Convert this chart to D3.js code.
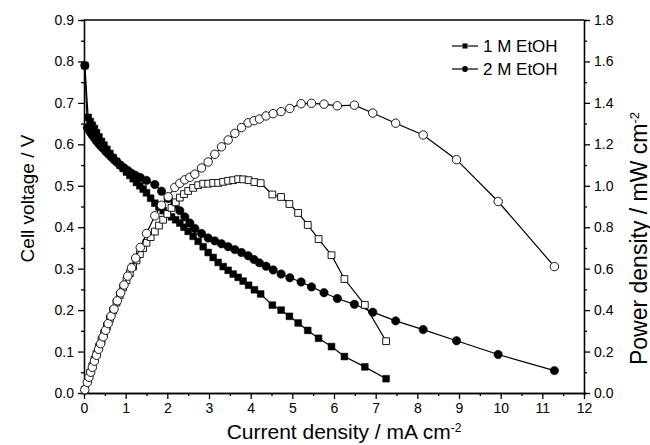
<!DOCTYPE html>
<html>
<head>
<meta charset="utf-8">
<script src="https://cdn.jsdelivr.net/npm/d3@7"></script>
<style>
  body { margin: 0; background: #fff; }
  text { font-family: "Liberation Sans", Arial, sans-serif; fill: #000; }
</style>
</head>
<body>
<script>
// 1 M EtOH : current density (mA cm-2), cell voltage (V), power density (mW cm-2)
var j1 = [0.02,0.1,0.15,0.2,0.25,0.3,0.36,0.42,0.48,0.55,0.62,0.7,0.78,0.86,0.94,1.02,1.1,1.18,1.26,1.34,1.42,1.5,1.6,1.7,1.8,1.9,2.0,2.1,2.2,2.3,2.4,2.5,2.62,2.74,2.86,2.98,3.1,3.22,3.34,3.46,3.58,3.7,3.82,3.95,4.09,4.24,4.52,4.73,4.93,5.14,5.37,5.63,5.94,6.25,6.74,7.25];
var v1 = [0.79,0.665,0.655,0.646,0.638,0.628,0.618,0.607,0.598,0.588,0.578,0.568,0.559,0.55,0.542,0.533,0.525,0.517,0.508,0.5,0.492,0.483,0.47,0.458,0.449,0.44,0.432,0.425,0.418,0.41,0.4,0.39,0.378,0.366,0.353,0.339,0.327,0.315,0.305,0.296,0.287,0.279,0.27,0.26,0.249,0.239,0.212,0.2,0.185,0.169,0.151,0.132,0.112,0.088,0.063,0.0345];
var p1 = [0.016,0.067,0.098,0.129,0.16,0.188,0.222,0.255,0.287,0.323,0.358,0.398,0.436,0.473,0.509,0.544,0.578,0.61,0.64,0.67,0.699,0.725,0.752,0.779,0.808,0.836,0.864,0.893,0.92,0.943,0.96,0.975,0.99,1.003,1.01,1.01,1.014,1.014,1.019,1.024,1.027,1.032,1.031,1.027,1.018,1.013,0.958,0.946,0.912,0.869,0.811,0.743,0.665,0.55,0.425,0.25];

// 2 M EtOH
var j2 = [0.02,0.08,0.12,0.16,0.2,0.25,0.3,0.35,0.4,0.46,0.52,0.58,0.65,0.72,0.8,0.88,0.96,1.05,1.14,1.24,1.35,1.5,1.7,1.86,2.02,2.18,2.3,2.42,2.54,2.66,2.82,2.98,3.14,3.3,3.46,3.62,3.78,3.94,4.08,4.21,4.37,4.54,4.73,4.94,5.21,5.46,5.76,6.08,6.49,6.93,7.48,8.14,8.94,9.94,11.29];
var v2 = [0.79,0.64,0.635,0.628,0.622,0.615,0.608,0.602,0.596,0.59,0.583,0.577,0.57,0.563,0.556,0.549,0.543,0.537,0.53,0.525,0.52,0.513,0.503,0.487,0.469,0.455,0.44,0.425,0.41,0.397,0.385,0.374,0.367,0.36,0.353,0.346,0.339,0.331,0.322,0.314,0.306,0.297,0.287,0.278,0.268,0.256,0.242,0.228,0.214,0.195,0.174,0.153,0.126,0.093,0.054];
var p2 = [0.016,0.051,0.076,0.1,0.124,0.154,0.182,0.211,0.238,0.271,0.303,0.335,0.371,0.405,0.445,0.483,0.521,0.564,0.604,0.651,0.702,0.77,0.855,0.906,0.947,0.992,1.012,1.029,1.041,1.056,1.086,1.115,1.152,1.188,1.221,1.253,1.281,1.304,1.314,1.322,1.337,1.348,1.358,1.373,1.396,1.398,1.394,1.386,1.389,1.351,1.302,1.245,1.126,0.924,0.61];

// tick values and legend text
var xTicks = [0,1,2,3,4,5,6,7,8,9,10,11,12];
var vTicks = [0,0.1,0.2,0.3,0.4,0.5,0.6,0.7,0.8,0.9];
var pTicks = [0,0.2,0.4,0.6,0.8,1.0,1.2,1.4,1.6,1.8];
var legendLabels = ["1 M EtOH", "2 M EtOH"];

var margin = {top: 20, right: 66, bottom: 52, left: 84},
    width = 650 - margin.left - margin.right,
    height = 445 - margin.top - margin.bottom;

var x = d3.scaleLinear().domain([0, 12]).range([0, width]);
var yV = d3.scaleLinear().domain([0, 0.9]).range([height, 0]);
var yP = d3.scaleLinear().domain([0, 1.8]).range([height, 0]);

var svg = d3.select("body").append("svg")
    .attr("width", 650)
    .attr("height", 445)
  .append("g")
    .attr("transform", "translate(" + margin.left + "," + margin.top + ")");

// minor ticks sit halfway between the major ones
function minors(ticks) {
  var m = [];
  for (var i = 0; i < ticks.length - 1; i++) m.push((ticks[i] + ticks[i + 1]) / 2);
  return m;
}

function styleAxis(g) {
  g.selectAll("path, line").attr("stroke", "#000").attr("stroke-width", 1.3);
  g.selectAll("text").style("font-size", "14px").attr("fill", "#000");
}

// major + minor ticks, bottom
svg.append("g")
    .attr("transform", "translate(0," + height + ")")
    .call(d3.axisBottom(x).tickValues(minors(xTicks)).tickSize(3).tickFormat(""))
    .call(styleAxis);
svg.append("g")
    .attr("transform", "translate(0," + height + ")")
    .call(d3.axisBottom(x).tickValues(xTicks).tickSize(6).tickSizeOuter(0).tickPadding(4).tickFormat(d3.format("d")))
    .call(styleAxis);

// left axis (voltage)
svg.append("g")
    .call(d3.axisLeft(yV).tickValues(minors(vTicks)).tickSize(3).tickFormat(""))
    .call(styleAxis);
svg.append("g")
    .call(d3.axisLeft(yV).tickValues(vTicks).tickSize(6).tickSizeOuter(0).tickPadding(4).tickFormat(d3.format(".1f")))
    .call(styleAxis);

// right axis (power)
svg.append("g")
    .attr("transform", "translate(" + width + ",0)")
    .call(d3.axisRight(yP).tickValues(minors(pTicks)).tickSize(3).tickFormat(""))
    .call(styleAxis);
svg.append("g")
    .attr("transform", "translate(" + width + ",0)")
    .call(d3.axisRight(yP).tickValues(pTicks).tickSize(6).tickSizeOuter(0).tickPadding(4).tickFormat(d3.format(".1f")))
    .call(styleAxis);

// top frame line
svg.append("line")
    .attr("x1", 0).attr("x2", width)
    .attr("y1", 0).attr("y2", 0)
    .attr("stroke", "#000").attr("stroke-width", 1.3);

// build point arrays
function pts(js, vs) { return js.map(function(d, i) { return [d, vs[i]]; }); }
var volt1 = pts(j1, v1), volt2 = pts(j2, v2), pow1 = pts(j1, p1), pow2 = pts(j2, p2);

function drawLine(data, yScale) {
  svg.append("path")
      .datum(data)
      .attr("fill", "none")
      .attr("stroke", "#000")
      .attr("stroke-width", 1.2)
      .attr("d", d3.line().x(function(d) { return x(d[0]); }).y(function(d) { return yScale(d[1]); }));
}

function drawMarks(data, yScale, type, filled) {
  var sym = d3.symbol().type(type).size(type === d3.symbolSquare ? 46 : 56);
  svg.append("g").selectAll("path")
      .data(data)
    .enter().append("path")
      .attr("d", sym)
      .attr("transform", function(d) { return "translate(" + x(d[0]) + "," + yScale(d[1]) + ")"; })
      .attr("fill", filled ? "#000" : "#fff")
      .attr("stroke", "#000")
      .attr("stroke-width", filled ? 0.5 : 0.9);
}

drawLine(volt1, yV); drawMarks(volt1, yV, d3.symbolSquare, true);
drawLine(volt2, yV); drawMarks(volt2, yV, d3.symbolCircle, true);
drawLine(pow1, yP); drawMarks(pow1, yP, d3.symbolSquare, false);
drawLine(pow2, yP); drawMarks(pow2, yP, d3.symbolCircle, false);

// legend
var legendTypes = [d3.symbolSquare, d3.symbolCircle];
var legend = svg.selectAll(".legend")
    .data(legendLabels)
  .enter().append("g")
    .attr("transform", function(d, i) { return "translate(368," + (26 + i * 23) + ")"; });
legend.append("line").attr("x1", 0).attr("x2", 10).attr("stroke", "#000").attr("stroke-width", 1.2);
legend.append("line").attr("x1", 16).attr("x2", 26).attr("stroke", "#000").attr("stroke-width", 1.2);
legend.append("path")
    .attr("d", function(d, i) { return d3.symbol().type(legendTypes[i]).size(26)(); })
    .attr("transform", "translate(13,0)")
    .attr("fill", "#000");
legend.append("text")
    .attr("x", 31)
    .attr("dy", "0.36em")
    .style("font-size", "17px")
    .text(function(d) { return d; });

// axis titles
svg.append("text")
    .attr("text-anchor", "middle")
    .attr("transform", "translate(-50," + (height / 2 - 8) + ")rotate(-90)")
    .style("font-size", "19px")
    .text("Cell voltage / V");

var xt = svg.append("text")
    .attr("text-anchor", "middle")
    .attr("transform", "translate(" + (width / 2 + 10) + "," + (height + 46) + ")")
    .style("font-size", "21px");
xt.append("tspan").text("Current density / mA cm");
xt.append("tspan").attr("dy", "-0.6em").style("font-size", "12px").text("-2");

var pt = svg.append("text")
    .attr("text-anchor", "middle")
    .attr("transform", "translate(" + (width + 63) + "," + (height / 2 + 32) + ")rotate(-90)")
    .style("font-size", "23px");
pt.append("tspan").text("Power density / mW cm");
pt.append("tspan").attr("dy", "-0.6em").style("font-size", "13px").text("-2");
</script>
</body>
</html>
